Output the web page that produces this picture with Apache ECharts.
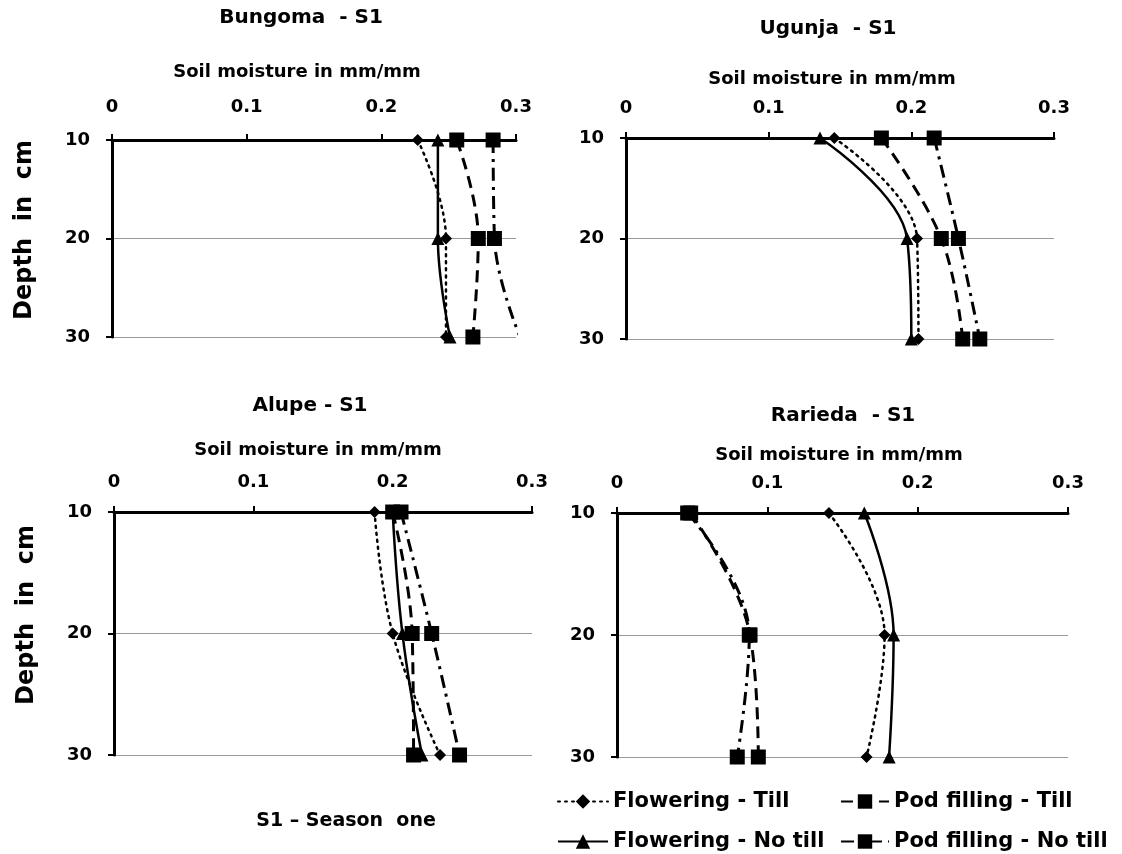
<!DOCTYPE html>
<html>
<head>
<meta charset="utf-8">
<script src="https://cdn.jsdelivr.net/npm/echarts@6/dist/echarts.min.js"></script>
<style>
html,body{margin:0;padding:0;background:#fff;}
#chart{width:1122px;height:854px;}
</style>
</head>
<body>
<div id="chart"></div>
<script>
// ---- data ----
const depths = [10, 20, 30];
const moistureTicks = [0, 0.1, 0.2, 0.3];
const depthTicks = [10, 20, 30];
const seriesNames = ['Flowering - Till', 'Flowering - No till', 'Pod filling - Till', 'Pod filling - No till'];
const siteTitles = ['Bungoma  - S1', 'Ugunja  - S1', 'Alupe - S1', 'Rarieda  - S1'];

// soil moisture (mm/mm) at depths 10, 20, 30 cm
const bungomaFlowTill     = [0.227, 0.248, 0.248];
const bungomaFlowNoTill   = [0.242, 0.242, 0.251];
const bungomaPodTill      = [0.256, 0.272, 0.268];
const bungomaPodNoTill    = [0.283, 0.284, 0.303];

const ugunjaFlowTill      = [0.146, 0.204, 0.205];
const ugunjaFlowNoTill    = [0.136, 0.197, 0.200];
const ugunjaPodTill       = [0.179, 0.221, 0.236];
const ugunjaPodNoTill     = [0.216, 0.233, 0.248];

const alupeFlowTill       = [0.187, 0.200, 0.234];
const alupeFlowNoTill     = [0.200, 0.207, 0.221];
const alupePodTill        = [0.200, 0.214, 0.215];
const alupePodNoTill      = [0.206, 0.228, 0.248];

const rariedaFlowTill     = [0.141, 0.178, 0.166];
const rariedaFlowNoTill   = [0.1645, 0.184, 0.181];
const rariedaPodTill      = [0.049, 0.0885, 0.094];
const rariedaPodNoTill    = [0.047, 0.088, 0.080];

const sites = [
  [bungomaFlowTill, bungomaFlowNoTill, bungomaPodTill, bungomaPodNoTill],
  [ugunjaFlowTill, ugunjaFlowNoTill, ugunjaPodTill, ugunjaPodNoTill],
  [alupeFlowTill, alupeFlowNoTill, alupePodTill, alupePodNoTill],
  [rariedaFlowTill, rariedaFlowNoTill, rariedaPodTill, rariedaPodNoTill]
];

// ---- layout / style ----
const FONT = '"DejaVu Sans", "Liberation Sans", sans-serif';
const grids = [
  {left: 112, top: 140, width: 404, height: 197},
  {left: 626, top: 138, width: 428, height: 201},
  {left: 114, top: 512, width: 418, height: 243},
  {left: 617, top: 513, width: 451, height: 244}
];
const xLabelMargin = [24, 21, 21, 21];

const styles = [
  {symbol: 'diamond', symbolSize: 12, lineStyle: {width: 2.5, type: [2, 5], cap: 'round'}},
  {symbol: 'triangle', symbolSize: 13, lineStyle: {width: 2.5, type: 'solid'}},
  {symbol: 'rect', symbolSize: 15, lineStyle: {width: 3, type: [12, 7]}},
  {symbol: 'rect', symbolSize: 15, lineStyle: {width: 3, type: [13, 6, 3, 6]}}
];

const xAxes = [], yAxes = [], series = [];
grids.forEach((g, i) => {
  xAxes.push({
    gridIndex: i, type: 'value', position: 'top',
    min: moistureTicks[0], max: moistureTicks[moistureTicks.length - 1], interval: 0.1,
    axisLine: {show: true, onZero: false, lineStyle: {color: '#000', width: 3}},
    axisTick: {show: true, length: 6, lineStyle: {color: '#000', width: 2}},
    axisLabel: {margin: xLabelMargin[i], color: '#000', fontSize: 18, fontWeight: 'bold', fontFamily: FONT,
      formatter: v => String(Math.round(v * 10) / 10)},
    splitLine: {show: false}
  });
  yAxes.push({
    gridIndex: i, type: 'value', inverse: true,
    min: depthTicks[0], max: depthTicks[depthTicks.length - 1], interval: 10,
    axisLine: {show: true, onZero: false, lineStyle: {color: '#000', width: 3}},
    axisTick: {show: true, length: 6, lineStyle: {color: '#000', width: 2}},
    axisLabel: {margin: 22, color: '#000', fontSize: 18, fontWeight: 'bold', fontFamily: FONT},
    splitLine: {show: true, lineStyle: {color: '#9a9a9a', width: 1}}
  });
  sites[i].forEach((vals, k) => {
    series.push({
      name: seriesNames[k], type: 'line', xAxisIndex: i, yAxisIndex: i,
      data: vals.map((v, j) => [v, depths[j]]),
      smooth: 0.4, clip: true,
      symbol: styles[k].symbol, symbolSize: styles[k].symbolSize,
      itemStyle: {color: '#000'},
      lineStyle: Object.assign({color: '#000'}, styles[k].lineStyle),
      z: 3 + k
    });
  });
});

const boldText = (text, x, y, size, extra) => Object.assign({
  type: 'text', x: x, y: y,
  style: {text: text, fill: '#000', fontSize: size, fontWeight: 'bold', fontFamily: FONT,
    align: 'center', verticalAlign: 'middle'}
}, extra || {});

const graphics = [
  boldText(siteTitles[0], 301, 18, 20),
  boldText(siteTitles[1], 828, 29, 20),
  boldText(siteTitles[2], 310, 406, 20),
  boldText(siteTitles[3], 843, 416, 20),
  boldText('Soil moisture in mm/mm', 297, 72, 18),
  boldText('Soil moisture in mm/mm', 832, 79, 18),
  boldText('Soil moisture in mm/mm', 318, 450, 18),
  boldText('Soil moisture in mm/mm', 839, 455, 18),
  boldText('Depth  in  cm', 25, 230, 24, {rotation: Math.PI / 2}),
  boldText('Depth  in  cm', 27, 615, 24, {rotation: Math.PI / 2}),
  boldText('S1 \u2013 Season  one', 346, 821, 19)
];

const legendText = {color: '#000', fontSize: 21, fontWeight: 'bold', fontFamily: FONT};
const legendPos = [[557, 803], [557, 843], [840, 803], [840, 843]];
const legends = seriesNames.map((n, k) => ({
  orient: 'horizontal', left: legendPos[k][0], top: legendPos[k][1] - 12,
  itemWidth: k < 2 ? 50 : 48, itemHeight: 18, padding: 0,
  data: [n], textStyle: legendText, selectedMode: false
}));

const option = {
  animation: false,
  backgroundColor: '#fff',
  grid: grids,
  xAxis: xAxes,
  yAxis: yAxes,
  series: series,
  legend: legends,
  graphic: graphics
};

const chart = echarts.init(document.getElementById('chart'), null, {renderer: 'canvas'});
chart.setOption(option);
</script>
</body>
</html>
